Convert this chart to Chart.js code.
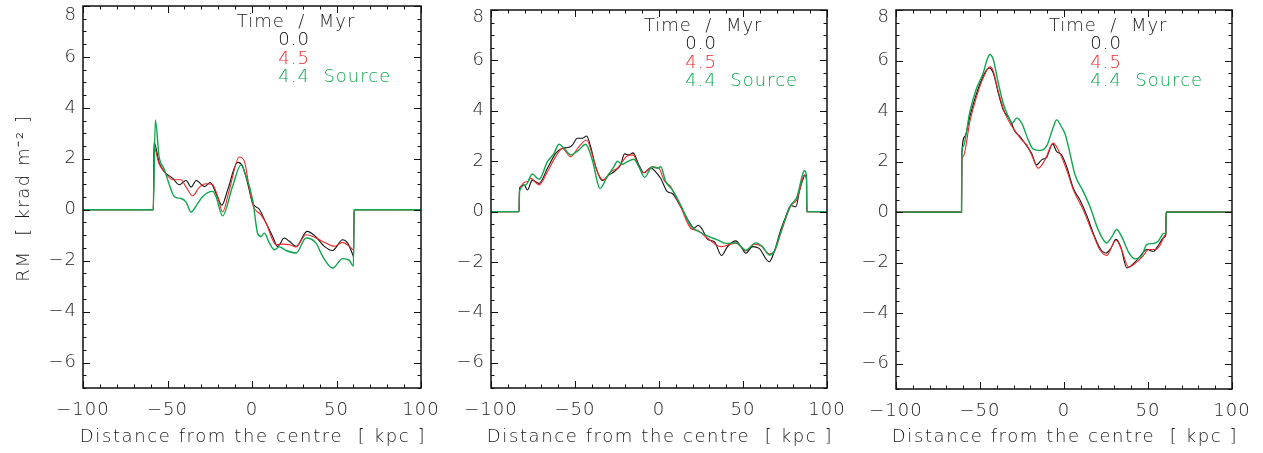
<!DOCTYPE html>
<html><head><meta charset="utf-8">
<script src="https://cdn.jsdelivr.net/npm/chart.js@4/dist/chart.umd.min.js"></script>
<style>
html,body{margin:0;padding:0;background:#fff;}
#wrap{position:relative;width:1263px;height:453px;overflow:hidden;background:#fff}
.pane{position:absolute;top:0;height:453px}
</style></head><body>
<div id="wrap">
<div class="pane" style="left:0;width:440px"><canvas id="c1"></canvas></div>
<div class="pane" style="left:440px;width:405px"><canvas id="c2"></canvas></div>
<div class="pane" style="left:845px;width:418px"><canvas id="c3"></canvas></div>
</div>
<script>
// ---------- data ----------
const seriesLabels = ["0.0", "4.5", "4.4  Source"];
const legendTitle = "Time  /  Myr";
const xTitle = "Distance from the centre  [ kpc ]";
const yTitle = "RM  [ krad m\u207B\u00B2 ]";
const xTickValues = [-100, -50, 0, 50, 100];
const yTickValues = [-6, -4, -2, 0, 2, 4, 6, 8];

// Panel 1
const p1BlackX = [-100,-58.4,-58.0,-54.8,-52,-47,-43,-39,-36,-33,-28.2,-24.7,-21.3,-17.8,-14.4,-8.5,-5.5,-2.6,0.4,4.3,8.3,12.2,15.2,19.1,22.1,26.1,32.6,37.9,42.8,47.7,53.6,56.6,59.6,60.1,60.4,100];
const p1BlackY = [0,0,2.64,1.83,1.5,1.24,0.98,1.15,0.89,1.15,0.91,1.07,0.65,0.18,0.78,1.86,1.7,1.05,0.26,0.02,-0.52,-1.05,-1.44,-1.11,-1.24,-1.44,-0.85,-1.07,-1.44,-1.6,-1.18,-1.31,-1.76,-1.85,0,0];
const p1RedX = [-100,-58.4,-57.9,-55,-52,-47,-42,-39,-35.1,-31.1,-27.2,-23.3,-20.3,-17.4,-13.4,-7.5,-4.5,-1.6,0.4,5.3,8.3,14.2,18.1,22,26.1,32,37.9,43.8,48.7,53.6,57.6,60,60.4,100];
const p1RedY = [0,0,2.44,1.8,1.5,1.18,1.18,0.89,0.55,0.89,1.02,0.98,0.52,-0.09,0.78,2.07,1.9,0.85,0.2,-0.2,-0.52,-1.37,-1.35,-1.37,-1.46,-0.98,-1.11,-1.31,-1.44,-1.28,-1.44,-1.57,0,0];
const p1GreenX = [-100,-58.4,-57.2,-55,-52,-49.9,-46,-42,-39,-36.1,-32,-29.2,-23.3,-21.3,-17.4,-11.5,-6.5,-4.5,0.4,3.3,5.3,7.3,10.3,13.3,16.2,20.2,26.1,32,37.9,41.8,47.7,53.6,57.6,60,60.4,100];
const p1GreenY = [0,0,3.53,2.1,1.6,1.18,0.52,0.44,0.3,-0.09,0.26,0.52,0.72,0.52,-0.24,0.92,1.76,1.5,0.39,-0.92,-1.05,-0.92,-1.31,-1.57,-1.46,-1.6,-1.7,-1.11,-1.31,-1.83,-2.29,-1.92,-1.99,-2.22,0,0];

// Panel 2
const p2BlackX = [-100,-83.3,-83.0,-82.3,-80.3,-78.3,-75.4,-71.4,-66.4,-61.5,-57.5,-54.2,-51.6,-48.6,-45.6,-43.1,-40.7,-37.7,-33.7,-29.8,-26.8,-22.9,-20.5,-17.9,-15.4,-12,-9,-5,-2,1,5,7.9,12.9,17.9,20.9,23.3,25.9,28.9,32.9,37.2,40.8,45.8,48.8,51.7,55.7,59.6,65.6,68.6,72.5,75.5,78.5,81.5,83.5,86.1,86.8,87.8,88.0,100];
const p2BlackY = [0,0,0.92,1.0,1.06,0.86,1.25,1.12,1.72,2.31,2.51,2.54,2.64,2.91,2.91,3.0,2.58,1.78,1.23,1.45,1.58,1.85,2.29,2.25,2.33,1.85,1.54,1.74,1.58,1.32,0.79,0.72,0.19,-0.4,-0.66,-0.54,-0.72,-1.1,-1.19,-1.74,-1.39,-1.16,-1.39,-1.65,-1.39,-1.46,-1.99,-1.59,-0.72,-0.19,0.24,0.19,0.79,1.36,1.45,1.3,0,0];
const p2RedX = [-100,-83.3,-83.0,-78.3,-76.4,-71.4,-66.4,-61.5,-57.5,-52.6,-47.6,-43.1,-39.7,-36.7,-33.1,-28.8,-24.8,-18.9,-15.4,-12,-9,-4,0,3,6.9,12.9,18.9,22.9,28.9,36.8,40.8,45.8,51.7,56.7,60.6,65.6,68.6,72.5,78.5,82.1,86.1,86.8,87.8,88.0,100];
const p2RedY = [0,0,0.86,1.19,1.32,1.06,1.58,2.18,2.51,2.18,2.58,2.84,2.25,1.58,1.25,1.58,1.72,2.21,2.25,1.78,1.54,1.78,1.72,1.25,0.99,0.19,-0.66,-0.75,-1.06,-1.39,-1.33,-1.24,-1.56,-1.29,-1.36,-1.68,-1.59,-0.86,0.24,0.48,1.42,1.45,1.3,0,0];
const p2GreenX = [-100,-83.3,-83.0,-79.3,-75.4,-71.4,-66.4,-62.5,-59.5,-56.5,-52.6,-47.6,-43.7,-39.7,-35.1,-30.8,-26.8,-24.8,-21.9,-18.9,-15,-12,-8.6,-4,-1,1,4,7.9,12.9,18.9,23.8,30.8,34.8,39.8,45.8,51.7,57.6,61.6,65.6,68.6,72.5,78.5,82.1,86.1,86.8,87.8,88.0,100];
const p2GreenY = [0,0,0.81,1.06,1.49,1.28,1.98,2.31,2.67,2.51,2.25,2.45,2.67,2.05,0.92,1.39,1.78,2.0,1.88,1.98,2.08,1.78,1.36,1.78,1.72,1.78,1.19,0.86,0.26,-0.57,-0.8,-1.02,-1.12,-1.26,-1.24,-1.53,-1.24,-1.39,-1.72,-1.59,-0.8,0.26,0.58,1.59,1.62,1.4,0,0];

// Panel 3
const p3BlackX = [-100,-61,-60.8,-59,-56,-52,-48.1,-44.5,-42.1,-39.1,-36.2,-33.2,-31.2,-29.2,-26.2,-22.2,-19.3,-16.3,-13.3,-10.3,-6.8,-4.4,-1.4,1.6,5.6,9.5,13.5,17.5,21.5,25,27.8,31,33.8,37.4,41.3,45.3,49.3,53.3,56.2,59.6,60.6,60.8,100];
const p3BlackY = [0,0,2.33,3.0,3.79,4.71,5.38,5.71,5.5,4.71,4.05,3.76,3.52,3.19,2.99,2.62,2.33,1.87,2.07,2.17,2.7,2.4,2.26,1.8,0.94,0.48,-0.12,-0.85,-1.44,-1.62,-1.44,-1.08,-1.38,-2.21,-2.04,-1.75,-1.48,-1.55,-1.31,-1.0,-0.9,0,0];
const p3RedX = [-100,-61,-60.8,-60,-56,-52,-48.1,-44.1,-42.1,-39.1,-35.2,-31.2,-28.2,-25.2,-22.2,-19.3,-15.3,-11.3,-6.4,-3.4,1.6,5.6,11.5,17.5,21.5,25.4,31,34.4,38.4,43.3,47.3,50.3,54.3,57.2,60.2,60.6,60.8,100];
const p3RedY = [0,0,2.0,2.2,3.59,4.58,5.31,5.75,5.58,4.78,3.92,3.42,3.13,2.86,2.66,2.27,1.74,2.07,2.73,2.46,1.67,0.87,0.08,-0.91,-1.51,-1.71,-1.11,-1.51,-2.17,-1.97,-1.71,-1.48,-1.48,-1.31,-0.91,-0.85,0,0];
const p3GreenX = [-100,-61,-60.8,-60,-56,-52,-48.1,-46.1,-44.1,-42.1,-39.1,-36.2,-33.2,-30.8,-28.2,-25.2,-21.3,-18.3,-14.3,-10.3,-6.4,-4.4,-1.4,0.6,2.6,6.6,11.5,15.5,20.5,25.4,28.4,31.4,34.4,38.4,42.3,46.3,49.3,53.3,56.2,59.2,60.6,60.8,100];
const p3GreenY = [0,0,2.4,2.6,3.99,4.91,5.5,5.97,6.24,6.04,5.11,4.31,3.79,3.52,3.72,3.52,2.86,2.49,2.44,2.62,3.36,3.65,3.36,3.1,2.6,1.47,0.81,0.21,-0.72,-1.22,-0.98,-0.69,-0.98,-1.58,-1.85,-1.71,-1.28,-1.24,-1.14,-0.85,-0.8,0,0];

// ---------- style ----------
const colors = ["#111111", "#ec2a2a", "#0ea64e"];
const lineWidths = [1.1, 1.1, 1.4];
const textColor = "#1c1c1c";
const fontFamily = "'DejaVu Sans', sans-serif";
const fontWeight = 200;
const xMinorStep = 10, xMajorStep = 50;
const yMinorStep = 0.5, yMajorStep = 2;

function zip(xs, ys) { return xs.map((x, i) => ({ x: x, y: ys[i] })); }
function fmt(v) { return (v < 0 ? "\u2212" : "") + Math.abs(v); }
function cssFont(size) { return fontWeight + " " + size + "px " + fontFamily; }

const spacingPlugin = {
  id: 'spacing',
  beforeDraw(chart) { chart.ctx.letterSpacing = '1px'; }
};

const framePlugin = {
  id: 'frame',
  afterDraw(chart) {
    const { ctx, chartArea: a, scales: { x, y } } = chart;
    ctx.save();
    ctx.strokeStyle = '#111';
    ctx.lineWidth = 1;
    ctx.beginPath();
    for (let v = x.min; v <= x.max + 1e-9; v += xMinorStep) {
      const px = Math.round(x.getPixelForValue(v)) + 0.5;
      const len = Math.abs(v % xMajorStep) < 1e-9 ? 7 : 3.5;
      ctx.moveTo(px, a.bottom); ctx.lineTo(px, a.bottom - len);
      ctx.moveTo(px, a.top); ctx.lineTo(px, a.top + len);
    }
    for (let v = y.min; v <= y.max + 1e-9; v += yMinorStep) {
      const py = Math.round(y.getPixelForValue(v)) + 0.5;
      const len = Math.abs(v % yMajorStep) < 1e-9 ? 7 : 3.5;
      ctx.moveTo(a.left, py); ctx.lineTo(a.left + len, py);
      ctx.moveTo(a.right, py); ctx.lineTo(a.right - len, py);
    }
    ctx.stroke();
    ctx.lineWidth = 1.5;
    ctx.strokeRect(a.left, a.top, a.right - a.left, a.bottom - a.top);
    ctx.restore();
  }
};

const textPlugin = {
  id: 'texts',
  afterDraw(chart, args, opts) {
    const { ctx, chartArea: a } = chart;
    const w = a.right - a.left;
    ctx.save();
    ctx.font = cssFont(18);
    ctx.letterSpacing = '1px';
    ctx.textAlign = 'left';
    ctx.textBaseline = 'alphabetic';
    ctx.fillStyle = textColor;
    ctx.fillText(legendTitle, a.left + 0.455 * w, a.top + 20.5);
    seriesLabels.forEach((lab, i) => {
      ctx.fillStyle = colors[i];
      ctx.fillText(lab, a.left + 0.578 * w, a.top + 39 + 18.5 * i);
    });
    // axis titles
    ctx.fillStyle = textColor;
    ctx.letterSpacing = '1.6px';
    ctx.textAlign = 'center';
    ctx.textBaseline = 'middle';
    ctx.fillText(xTitle, (a.left + a.right) / 2 + 1, 437);
    if (opts.yTitle) {
      ctx.translate(24, (a.top + a.bottom) / 2 + 1);
      ctx.rotate(-Math.PI / 2);
      ctx.fillText(yTitle, 0, 0);
    }
    ctx.restore();
  }
};

function makeChart(id, xs, ys, cfg) {
  const datasets = [0, 1, 2].map(i => ({
    label: seriesLabels[i],
    data: zip(xs[i], ys[i]),
    borderColor: colors[i],
    backgroundColor: colors[i],
    borderWidth: lineWidths[i],
    pointRadius: 0,
    fill: false,
    cubicInterpolationMode: 'monotone',
    order: 2 - i
  }));
  const font = { family: fontFamily, size: 18, weight: fontWeight };
  return new Chart(document.getElementById(id), {
    type: 'line',
    data: { datasets },
    options: {
      responsive: true,
      maintainAspectRatio: false,
      animation: false,
      devicePixelRatio: 1,
      layout: { padding: { left: 0, top: cfg.top, right: cfg.right, bottom: 0 } },
      plugins: { legend: { display: false }, tooltip: { enabled: false }, texts: { yTitle: cfg.yTitle } },
      scales: {
        x: {
          type: 'linear', min: -100, max: 100,
          grid: { display: false, drawTicks: false },
          border: { display: false },
          afterBuildTicks: s => { s.ticks = xTickValues.map(v => ({ value: v })); },
          ticks: { padding: 12, color: textColor, font, maxRotation: 0, autoSkip: false, callback: v => fmt(v) },
          title: { display: false },
          afterFit: s => { s.height = cfg.xh; s.paddingLeft = 0; s.paddingRight = 0; }
        },
        y: {
          type: 'linear', min: -7, max: 8,
          grid: { display: false, drawTicks: false },
          border: { display: false },
          afterBuildTicks: s => { s.ticks = yTickValues.map(v => ({ value: v })); },
          ticks: {
            padding: 6, color: textColor, autoSkip: false,
            font: c => (c.tick && c.tick.value === 8) ? { family: fontFamily, size: 18, weight: fontWeight, lineHeight: cfg.topShift / 9 } : font,
            callback: v => v === 8 ? ["", fmt(v)] : fmt(v)
          },
          title: { display: false },
          afterFit: s => { s.width = cfg.yw; s.paddingTop = 0; s.paddingBottom = 0; }
        }
      }
    },
    plugins: [spacingPlugin, framePlugin, textPlugin]
  });
}

makeChart('c1', [p1BlackX, p1RedX, p1GreenX], [p1BlackY, p1RedY, p1GreenY],
  { top: 6, right: 19, yw: 83, xh: 65, yTitle: true, topShift: 9 });
makeChart('c2', [p2BlackX, p2RedX, p2GreenX], [p2BlackY, p2RedY, p2GreenY],
  { top: 10, right: 18, yw: 51, xh: 65, yTitle: false, topShift: 7 });
makeChart('c3', [p3BlackX, p3RedX, p3GreenX], [p3BlackY, p3RedY, p3GreenY],
  { top: 10, right: 31, yw: 51, xh: 64, yTitle: false, topShift: 7 });
</script>
</body></html>
